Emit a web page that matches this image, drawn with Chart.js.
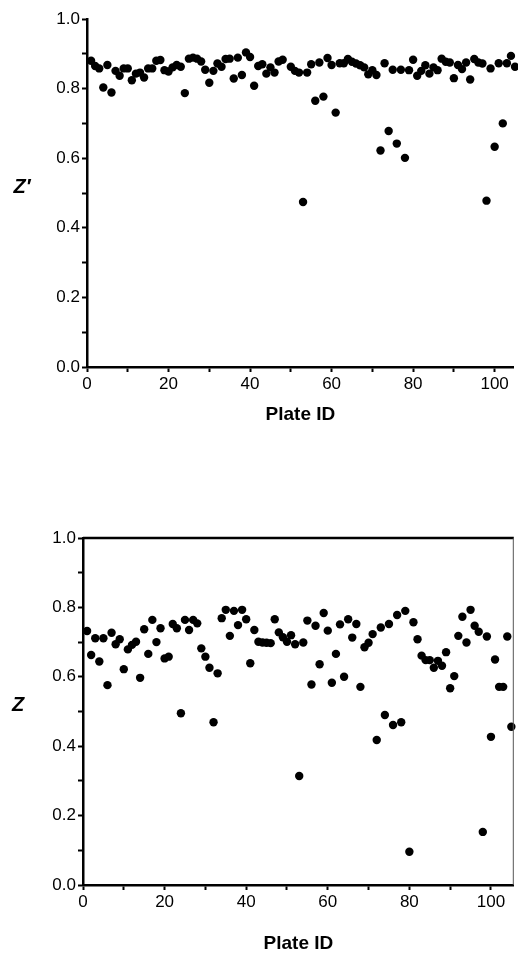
<!DOCTYPE html>
<html>
<head>
<meta charset="utf-8">
<script src="https://cdn.jsdelivr.net/npm/chart.js@4/dist/chart.umd.min.js"></script>
<style>
  html, body { margin: 0; padding: 0; background: #fff; }
  #wrap { position: relative; width: 518px; height: 954px; overflow: hidden; }
  .box { position: absolute; left: 0; width: 518px; }
  .ylab { position: absolute; font-family: "Liberation Sans", Arial, sans-serif;
          font-weight: bold; font-style: italic; font-size: 20px; color: #000;
          transform: translate(-50%, -50%); }
</style>
</head>
<body>
<div id="wrap">
  <div class="box" style="top:0;height:430px"><canvas id="zPrimeChart"></canvas></div>
  <div class="box" style="top:500px;height:455px"><canvas id="zChart"></canvas></div>
  <div class="ylab" style="left:22px;top:186px">Z′</div>
  <div class="ylab" style="left:18px;top:704px">Z</div>
</div>
<script>
// plate ids 1..105 (plate 49 has no Z' point in the top panel)
var plateIds = [1, 2, 3, 4, 5, 6, 7, 8, 9, 10, 11, 12, 13, 14, 15, 16, 17, 18, 19, 20,
  21, 22, 23, 24, 25, 26, 27, 28, 29, 30, 31, 32, 33, 34, 35, 36, 37, 38, 39, 40,
  41, 42, 43, 44, 45, 46, 47, 48, 49, 50, 51, 52, 53, 54, 55, 56, 57, 58, 59, 60,
  61, 62, 63, 64, 65, 66, 67, 68, 69, 70, 71, 72, 73, 74, 75, 76, 77, 78, 79, 80,
  81, 82, 83, 84, 85, 86, 87, 88, 89, 90, 91, 92, 93, 94, 95, 96, 97, 98, 99, 100,
  101, 102, 103, 104, 105];

var zPrimeValues = [0.880, 0.865, 0.858, 0.803, 0.868, 0.789, 0.851, 0.837, 0.858, 0.858,
  0.824, 0.843, 0.846, 0.832, 0.858, 0.858, 0.880, 0.882, 0.853, 0.849,
  0.861, 0.868, 0.863, 0.787, 0.886, 0.889, 0.886, 0.878, 0.854, 0.817,
  0.851, 0.872, 0.863, 0.885, 0.886, 0.829, 0.889, 0.839, 0.904, 0.891,
  0.808, 0.865, 0.870, 0.843, 0.861, 0.846, 0.878, 0.883, null, 0.863,
  0.851, 0.846, 0.474, 0.846, 0.870, 0.765, 0.875, 0.777, 0.888, 0.868,
  0.731, 0.873, 0.873, 0.885, 0.877, 0.872, 0.867, 0.861, 0.841, 0.853,
  0.839, 0.622, 0.873, 0.678, 0.854, 0.642, 0.854, 0.601, 0.853, 0.883,
  0.837, 0.851, 0.867, 0.843, 0.861, 0.853, 0.886, 0.877, 0.875, 0.830,
  0.868, 0.856, 0.875, 0.826, 0.885, 0.875, 0.872, 0.478, 0.858, 0.633,
  0.873, 0.700, 0.873, 0.894, 0.863];

var zValues = [0.732, 0.663, 0.711, 0.644, 0.711, 0.576, 0.727, 0.694, 0.708, 0.622,
  0.679, 0.692, 0.701, 0.597, 0.737, 0.666, 0.764, 0.700, 0.740, 0.653,
  0.658, 0.752, 0.740, 0.495, 0.764, 0.735, 0.764, 0.754, 0.682, 0.658,
  0.626, 0.469, 0.610, 0.769, 0.793, 0.718, 0.790, 0.749, 0.793, 0.766,
  0.639, 0.735, 0.701, 0.699, 0.698, 0.697, 0.766, 0.728, 0.714, 0.701,
  0.720, 0.694, 0.314, 0.699, 0.762, 0.578, 0.747, 0.636, 0.784, 0.733,
  0.583, 0.666, 0.751, 0.600, 0.766, 0.713, 0.752, 0.571, 0.685, 0.698,
  0.723, 0.418, 0.742, 0.490, 0.752, 0.461, 0.778, 0.469, 0.790, 0.096,
  0.757, 0.708, 0.661, 0.648, 0.648, 0.626, 0.646, 0.632, 0.671, 0.567,
  0.602, 0.718, 0.773, 0.699, 0.793, 0.747, 0.730, 0.153, 0.716, 0.427,
  0.650, 0.571, 0.571, 0.716, 0.456];

var yTickLabels = ["0.0", "0.2", "0.4", "0.6", "0.8", "1.0"];
var xTickLabels = ["0", "20", "40", "60", "80", "100"];

var FONT = '"Liberation Sans", Arial, sans-serif';

function points(ids, vals) {
  var out = [];
  for (var i = 0; i < ids.length; i++) {
    if (vals[i] !== null) out.push({ x: ids[i], y: vals[i] });
  }
  return out;
}

// extra frame (top + right edges) for the lower panel
var framePlugin = {
  id: 'frame',
  afterDraw: function(chart) {
    if (!chart.options.plugins.frame || !chart.options.plugins.frame.show) return;
    var a = chart.chartArea, ctx = chart.ctx;
    ctx.save();
    ctx.strokeStyle = '#000';
    ctx.lineWidth = 2.5;
    ctx.beginPath();
    ctx.moveTo(a.left, a.top);
    ctx.lineTo(a.right, a.top);
    ctx.stroke();
    ctx.strokeStyle = '#555';
    ctx.lineWidth = 1;
    ctx.beginPath();
    ctx.moveTo(a.right - 0.5, a.top);
    ctx.lineTo(a.right - 0.5, a.bottom);
    ctx.stroke();
    ctx.restore();
  }
};

function makeChart(id, ids, vals, opt) {
  return new Chart(document.getElementById(id), {
    type: 'scatter',
    data: {
      datasets: [{
        data: points(ids, vals),
        backgroundColor: '#000',
        borderWidth: 0,
        pointRadius: 4.2,
        pointHoverRadius: 4.2,
        clip: false
      }]
    },
    plugins: [framePlugin],
    options: {
      responsive: true,
      maintainAspectRatio: false,
      animation: false,
      events: [],
      layout: { padding: opt.padding },
      plugins: {
        legend: { display: false },
        tooltip: { enabled: false },
        frame: { show: opt.frame }
      },
      scales: {
        x: {
          type: 'linear',
          min: 0,
          max: opt.xMax,
          afterFit: function(s) { s.height = opt.xHeight; },
          border: { color: '#000', width: 2.5 },
          grid: { drawOnChartArea: false, drawTicks: true, tickLength: 5, tickColor: '#000', tickWidth: 2 },
          ticks: {
            stepSize: 10,
            includeBounds: false,
            autoSkip: false,
            maxRotation: 0,
            padding: 2,
            color: '#000',
            font: { family: FONT, size: 17 },
            callback: function(v) {
              var i = xTickLabels.indexOf(String(Math.round(v)));
              return (Math.round(v) % 20 === 0 && i >= 0) ? xTickLabels[i] : '';
            }
          },
          title: {
            display: true,
            text: 'Plate ID',
            color: '#000',
            font: { family: FONT, size: 19, weight: 'bold' },
            padding: { top: 0, bottom: opt.titlePad }
          }
        },
        y: {
          min: 0,
          max: 1,
          afterFit: function(s) { s.width = opt.yWidth; },
          border: { color: '#000', width: 2.5 },
          grid: { drawOnChartArea: false, drawTicks: true, tickLength: 5, tickColor: '#000', tickWidth: 2 },
          ticks: {
            stepSize: 0.1,
            autoSkip: false,
            padding: 2,
            color: '#000',
            font: { family: FONT, size: 17 },
            callback: function(v) {
              var k = Math.round(v * 10);
              return k % 2 === 0 ? yTickLabels[k / 2] : '';
            }
          }
        }
      }
    }
  });
}

makeChart('zPrimeChart', plateIds, zPrimeValues, {
  padding: { top: 19, right: 0, left: 0, bottom: 0 },
  xMax: 104.7, xHeight: 63, yWidth: 87, titlePad: 3.5, frame: false
});

makeChart('zChart', plateIds, zValues, {
  padding: { top: 38, right: 1, left: 0, bottom: 0 },
  xMax: 105.6, xHeight: 70, yWidth: 83, titlePad: 0, frame: true
});
</script>
</body>
</html>
